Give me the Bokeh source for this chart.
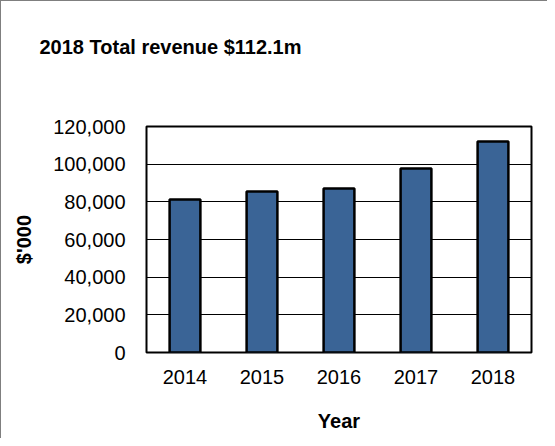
from bokeh.plotting import figure
from bokeh.embed import file_html
from bokeh.resources import INLINE
from bokeh.models import NumeralTickFormatter, FixedTicker, Title

years = ["2014", "2015", "2016", "2017", "2018"]
revenue = [81200, 85500, 87100, 97700, 112100]
y_ticks = [0, 20000, 40000, 60000, 80000, 100000, 120000]
title_text = "2018 Total revenue $112.1m"

FONT = "Liberation Sans"

p = figure(x_range=years, y_range=(0, 120000), width=547, height=438,
           output_backend="svg", toolbar_location=None,
           min_border_left=145, min_border_right=17, min_border_top=125,
           min_border_bottom=87)

p.vbar(x=years, top=revenue, width=0.4, fill_color="#3A6496",
       line_color="#000000", line_width=2.5)

# default title kept empty and minimal
p.title.text = ""
p.title.standoff = 0
p.title.text_font_size = "1px"

# spacer (closest to the frame) then the real title above it
spacer = Title(text=" ", text_font=FONT, text_font_size="20px", standoff=45)
main_title = Title(text=title_text, text_font=FONT, text_font_size="20px",
                   text_font_style="bold", text_color="#000000",
                   align="left", offset=-107, standoff=0)
p.add_layout(spacer, "above")
p.add_layout(main_title, "above")

p.outline_line_color = "#000000"
p.outline_line_width = 2

p.yaxis.ticker = FixedTicker(ticks=y_ticks)
p.yaxis.formatter = NumeralTickFormatter(format="0,0")
p.xaxis.axis_label = "Year"
p.yaxis.axis_label = "$'000"
for ax in (p.xaxis[0], p.yaxis[0]):
    ax.axis_line_color = None
    ax.major_tick_line_color = None
    ax.minor_tick_line_color = None
    ax.major_label_text_font = FONT
    ax.major_label_text_font_size = "20px"
    ax.major_label_text_color = "#000000"
    ax.axis_label_text_font = FONT
    ax.axis_label_text_font_size = "20px"
    ax.axis_label_text_font_style = "bold"
    ax.axis_label_text_color = "#000000"
p.yaxis.major_label_standoff = 15
p.yaxis.axis_label_standoff = 15
p.xaxis.major_label_standoff = 11
p.xaxis.axis_label_standoff = 23

p.xgrid.grid_line_color = None
p.ygrid.grid_line_color = "#000000"
p.ygrid.grid_line_width = 1
p.ygrid.ticker = FixedTicker(ticks=y_ticks)

p.styles = {"border-top": "1px solid #7f7f7f", "border-left": "1px solid #7f7f7f"}

open("out.html", "w").write(file_html(p, INLINE))
